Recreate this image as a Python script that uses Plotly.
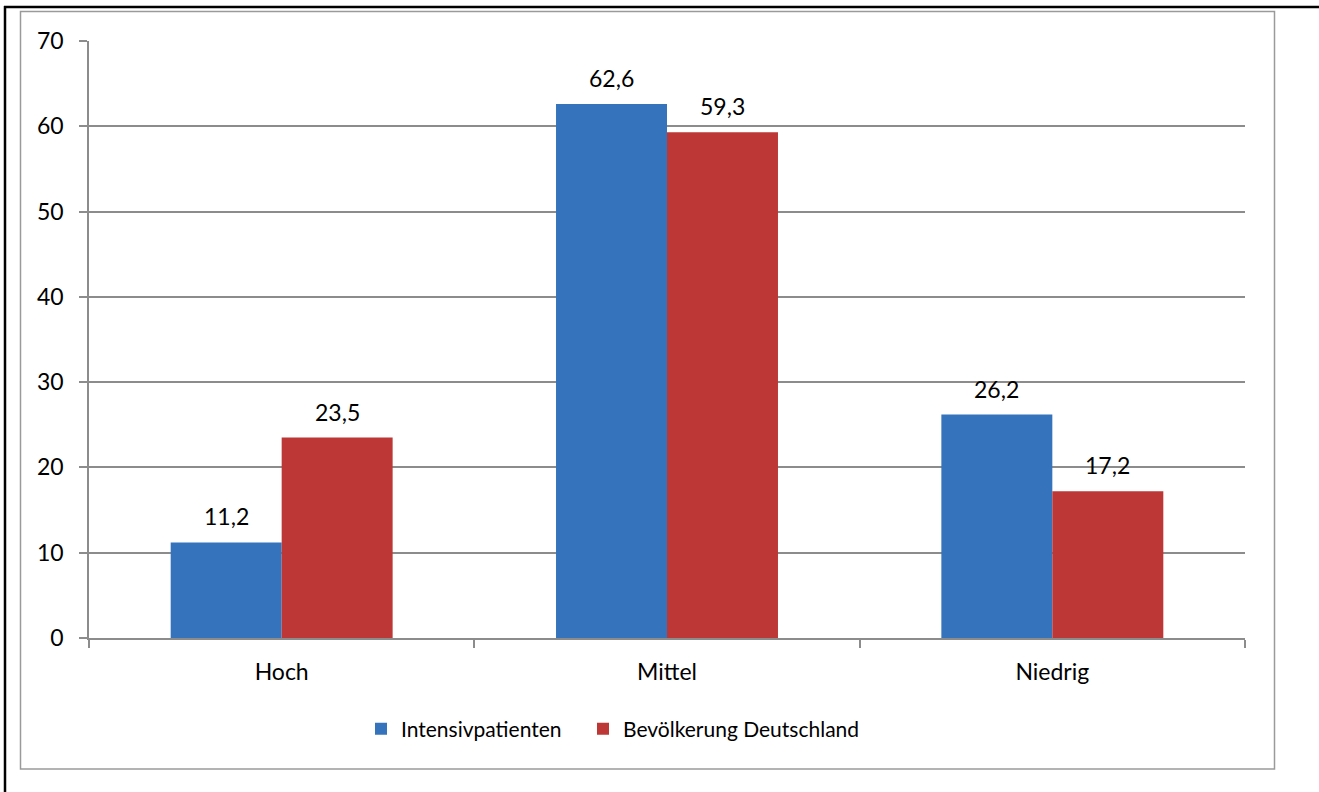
import plotly.graph_objects as go

categories = ["Hoch", "Mittel", "Niedrig"]
intensiv = [11.2, 62.6, 26.2]
bevoelkerung = [23.5, 59.3, 17.2]
series_names = ["Intensivpatienten", "Bevölkerung Deutschland"]
y_ticks = [0, 10, 20, 30, 40, 50, 60, 70]

W, H = 1319, 792
L, R, T, B = 89, 1245, 41, 638  # plot area in pixels
PW, PH = R - L, B - T

def px_x(px):
    return (px - L) / PW

def px_y(py):
    return (B - py) / PH

FONT = "Lato"
BLUE = "#3573BC"
RED = "#BC3735"
GRID = "#8c8c8c"
BARGAP = 0.424

fig = go.Figure()
fig.add_trace(go.Bar(x=categories, y=intensiv, name=series_names[0], legend="legend",
                     marker=dict(color=BLUE, line=dict(width=0))))
fig.add_trace(go.Bar(x=categories, y=bevoelkerung, name=series_names[1], legend="legend2",
                     marker=dict(color=RED, line=dict(width=0))))

cat_px = PW / len(categories)
bar_px = (1 - BARGAP) / 2 * cat_px

def fmt(v):
    return f"{v:.1f}".replace(".", ",")

annotations = []
for vals, sign in ((intensiv, -1), (bevoelkerung, 1)):
    for c, v in zip(categories, vals):
        annotations.append(dict(x=c, y=v, xref="x", yref="y", text=fmt(v),
                                showarrow=False, xshift=sign * bar_px / 2,
                                yshift=26, yanchor="middle",
                                font=dict(family=FONT, size=23, color="#000")))

shapes = [
    # grey frame
    dict(type="rect", xref="paper", yref="paper",
         x0=px_x(20.5), x1=px_x(1274.5), y0=px_y(769), y1=px_y(11.5),
         line=dict(color="#9a9a9a", width=1.5), fillcolor="rgba(0,0,0,0)", layer="below"),
    # black outer lines
    dict(type="line", xref="paper", yref="paper",
         x0=px_x(4), x1=px_x(1319), y0=px_y(7), y1=px_y(7),
         line=dict(color="#000", width=2.5)),
    dict(type="line", xref="paper", yref="paper",
         x0=px_x(5), x1=px_x(5), y0=px_y(6), y1=px_y(792),
         line=dict(color="#000", width=2.5)),
]

legend_common = dict(orientation="h", xanchor="left", yanchor="middle", y=px_y(729),
                     font=dict(family=FONT, size=21, color="#000"),
                     bgcolor="rgba(0,0,0,0)", itemsizing="constant")

fig.update_layout(
    width=W, height=H,
    margin=dict(l=L, r=W - R, t=T, b=H - B, autoexpand=False),
    paper_bgcolor="white", plot_bgcolor="white",
    barmode="group", bargap=BARGAP, bargroupgap=0,
    font=dict(family=FONT, size=23, color="#000"),
    showlegend=True,
    legend=dict(x=px_x(361), **legend_common),
    legend2=dict(x=px_x(583), **legend_common),
    annotations=annotations,
    shapes=shapes,
)
fig.update_xaxes(type="category", showline=True, linecolor=GRID, linewidth=1.5,
                 ticks="outside", tickson="boundaries", ticklen=8, tickcolor=GRID,
                 tickwidth=1.5, showgrid=False, ticklabelstandoff=13,
                 tickfont=dict(family=FONT, size=23, color="#000"), automargin=False)
fig.update_yaxes(range=[0, 70], tickvals=y_ticks, showline=True, linecolor=GRID,
                 linewidth=1.5, ticks="outside", ticklen=8, tickcolor=GRID, tickwidth=1.5,
                 showgrid=True, gridcolor=GRID, gridwidth=1.5, zeroline=False,
                 ticklabelstandoff=11,
                 tickfont=dict(family=FONT, size=23, color="#000"), automargin=False)

fig.write_html("out.html")
